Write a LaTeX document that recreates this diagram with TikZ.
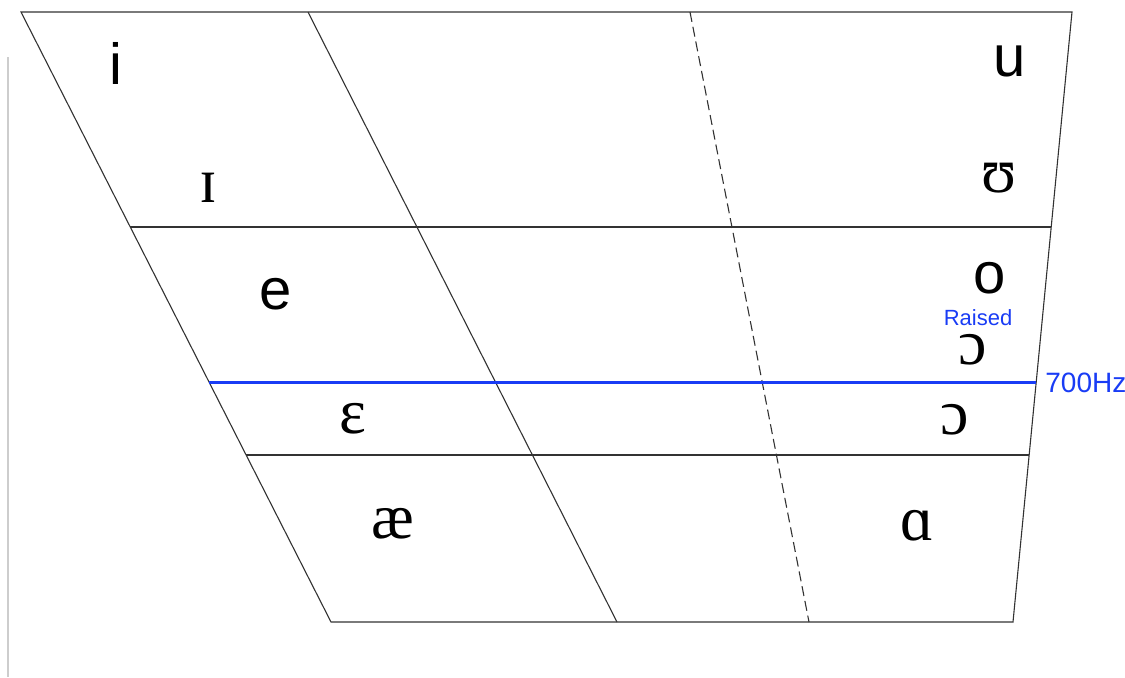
\documentclass[tikz,border=0pt]{standalone}
\usepackage{fontspec}
\setmainfont{Liberation Serif}
\setsansfont{Liberation Sans}
\usetikzlibrary{calc}
\definecolor{chartInk}{RGB}{50,50,50}
\definecolor{chartFaint}{RGB}{205,205,205}
\definecolor{hzBlue}{RGB}{25,60,245}

\begin{document}
\begin{tikzpicture}[x=0.5pt, y=-0.5pt,
  rule/.style={draw=chartInk, line width=0.55pt},
  vowel/.style={anchor=base, inner sep=0pt, font=\fontsize{32}{32}\selectfont},
  vowelsf/.style={anchor=base, inner sep=0pt, font=\sffamily\fontsize{29}{29}\selectfont},
  hz/.style={anchor=base, inner sep=0pt, text=hzBlue, font=\sffamily}]
\useasboundingbox (0,0) rectangle (1125,677);

% corners of the chart
\coordinate (tl) at (21,12);
\coordinate (tr) at (1072,12);
\coordinate (bl) at (331,622);
\coordinate (br) at (1013,622);

% faint margin rule
\coordinate (mTop) at (8,57);
\coordinate (mBot) at (8,677);
\draw[chartFaint, line width=0.6pt] (mTop) -- (mBot);

% outline and columns
\draw[rule] (tl) -- (tr) -- (br) -- (bl) -- cycle;
\coordinate (cTop) at (308,12);
\coordinate (cBot) at (617,622);
\draw[rule] (cTop) -- (cBot);
\coordinate (dTop) at (690,12);
\coordinate (dBot) at (809,622);
\draw[rule, dashed, dash pattern=on 5pt off 2.5pt] (dTop) -- (dBot);

% rows
\foreach \t/\name in {0.3525/hi, 0.7262/lo}
  \draw[rule] ($(tl)!\t!(bl)$) coordinate (\name L) -- ($(tr)!\t!(br)$) coordinate (\name R);
\coordinate (bL) at ($(tl)!0.608!(bl)$);
\coordinate (bR) at ($(tr)!0.608!(br)$);
\draw[hzBlue, line width=1.5pt] (bL) -- (bR);

% vowels
\node[vowelsf] (vi) at (116,84) {i};
\node[vowel] (vI) at (208,202) {ɪ};
\node[vowelsf] (ve) at (276,309) {e};
\node[vowel] (vE) at (353,433) {ɛ};
\node[vowel] (vae) at (393,538) {æ};
\node[vowelsf] (vu) at (1010,76) {u};
\node[vowel] (vU) at (999,192) {ʊ};
\node[vowelsf] (vo) at (990,293) {o};
\node[vowel] (vOr) at (973,364) {ɔ};
\node[vowel] (vO) at (955,434) {ɔ};
\node[vowel] (vA) at (917,540) {ɑ};

% labels
\node[hz, font=\sffamily\fontsize{11}{11}\selectfont] (raised) at (978,325) {Raised};
\node[hz, anchor=base west, font=\sffamily\fontsize{14}{14}\selectfont] (hzLabel) at (1045,392) {700Hz};
\end{tikzpicture}
\end{document}
